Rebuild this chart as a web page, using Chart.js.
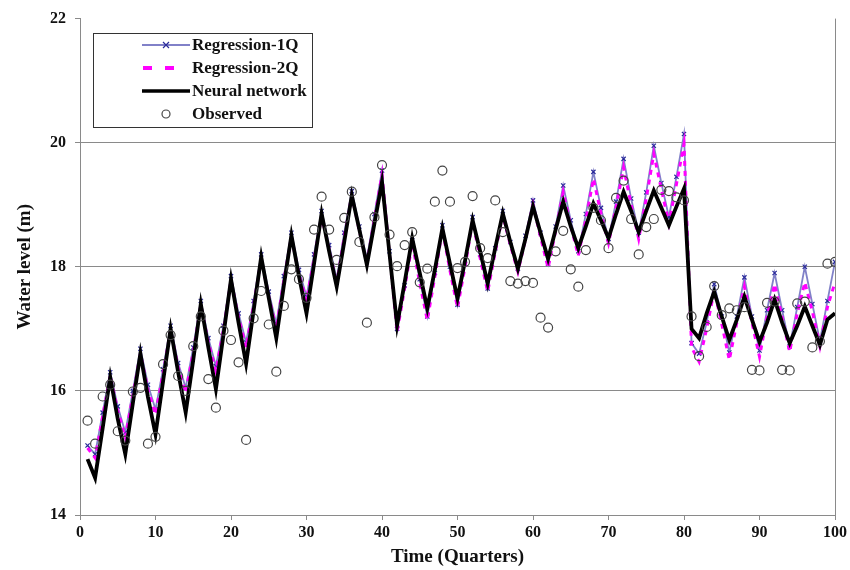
<!DOCTYPE html>
<html>
<head>
<meta charset="utf-8">
<script src="https://cdn.jsdelivr.net/npm/chart.js@4.4.1/dist/chart.umd.min.js"></script>
<style>
  html, body { margin: 0; padding: 0; background: #fff; }
  #wrap { width: 850px; height: 570px; }
</style>
</head>
<body>
<div id="wrap"><canvas id="waterChart" width="850" height="570"></canvas></div>
<script>
// quarters 1..100 (category positions on the x axis)
var quarters = Array.from({ length: 100 }, function (_, i) { return i + 1; });

var regression1Q = [
  15.12, 14.98, 15.65, 16.3, 15.75, 15.33, 16.0, 16.68, 16.1, 15.7,
  16.35, 17.05, 16.45, 16.05, 16.7, 17.45, 16.85, 16.4, 17.05, 17.85,
  17.25, 16.78, 17.45, 18.2, 17.6, 17.08, 17.85, 18.55, 17.95, 17.52,
  18.2, 18.9, 18.35, 17.8, 18.55, 19.22, 18.65, 18.13, 18.85, 19.55,
  18.25, 17.0, 17.7, 18.43, 17.8, 17.2, 17.9, 18.67, 18.0, 17.39,
  18.05, 18.8, 18.2, 17.65, 18.3, 18.9, 18.4, 17.97, 18.5, 19.07,
  18.55, 18.05, 18.65, 19.31, 18.75, 18.25, 18.85, 19.53, 18.95, 18.45,
  19.05, 19.74, 19.1, 18.55, 19.2, 19.95, 19.35, 18.8, 19.45, 20.14,
  16.77, 16.6, 17.1, 17.72, 17.2, 16.62, 17.2, 17.83, 17.2, 16.65,
  17.3, 17.9, 17.3, 16.72, 17.35, 18.0, 17.4, 16.8, 17.45, 18.08
];

var regression2Q = [
  15.08, 14.92, 15.58, 16.25, 15.68, 15.25, 15.92, 16.6, 16.02, 15.62,
  16.28, 16.98, 16.38, 15.97, 16.62, 17.38, 16.78, 16.32, 16.98, 17.78,
  17.18, 16.7, 17.38, 18.12, 17.52, 17.0, 17.78, 18.48, 17.88, 17.45,
  18.12, 18.82, 18.28, 17.72, 18.48, 19.15, 18.58, 18.05, 18.78, 19.48,
  18.18, 16.95, 17.65, 18.38, 17.74, 17.14, 17.84, 18.6, 17.94, 17.34,
  18.0, 18.73, 18.14, 17.6, 18.24, 18.83, 18.35, 17.92, 18.44, 19.0,
  18.48, 17.98, 18.58, 19.2, 18.66, 18.18, 18.76, 19.42, 18.86, 18.38,
  18.96, 19.6, 19.0, 18.45, 19.1, 19.82, 19.25, 18.7, 19.33, 19.98,
  16.7, 16.47, 17.0, 17.62, 17.08, 16.5, 17.1, 17.68, 17.1, 16.55,
  17.2, 17.72, 17.18, 16.63, 17.25, 17.75, 17.28, 16.72, 17.35, 17.75
];

var neuralNetwork = [
  14.9, 14.6, 15.4, 16.22, 15.55, 14.98, 15.8, 16.6, 15.9, 15.3,
  16.15, 17.0, 16.3, 15.65, 16.5, 17.4, 16.7, 16.03, 16.9, 17.8,
  17.1, 16.44, 17.3, 18.16, 17.5, 16.85, 17.7, 18.51, 17.85, 17.25,
  18.05, 18.86, 18.25, 17.68, 18.4, 19.15, 18.6, 18.03, 18.7, 19.37,
  18.2, 17.06, 17.75, 18.46, 17.9, 17.33, 17.95, 18.62, 18.05, 17.49,
  18.1, 18.75, 18.25, 17.73, 18.3, 18.86, 18.4, 17.97, 18.45, 18.97,
  18.55, 18.13, 18.6, 19.05, 18.65, 18.3, 18.65, 19.02, 18.75, 18.46,
  18.85, 19.21, 18.9, 18.56, 18.9, 19.23, 18.95, 18.67, 18.97, 19.26,
  17.0, 16.85, 17.25, 17.6, 17.2, 16.82, 17.15, 17.52, 17.15, 16.79,
  17.1, 17.47, 17.1, 16.77, 17.05, 17.36, 17.05, 16.74, 17.15, 17.25
];

var observed = [
  15.52, 15.15, 15.91, 16.1, 15.35, 15.2, 15.99, 16.05, 15.15, 15.26,
  16.43, 16.9, 16.24, 16.0, 16.72, 17.2, 16.19, 15.73, 16.97, 16.82,
  16.46, 15.21, 17.17, 17.61, 17.07, 16.31, 17.37, 17.96, 17.8, 17.5,
  18.6, 19.13, 18.6, 18.11, 18.79, 19.21, 18.4, 17.1, 18.8, 19.64,
  18.52, 18.01, 18.35, 18.56, 17.75, 17.97, 19.05, 19.55, 19.05, 17.98,
  18.08, 19.14, 18.3, 18.14, 19.07, 18.56, 17.77, 17.73, 17.77, 17.74,
  17.18, 17.02, 18.25, 18.58, 17.96, 17.68, 18.27, 18.95, 18.75, 18.3,
  19.11, 19.39, 18.77, 18.2, 18.64, 18.77, 19.24, 19.22, 19.12, 19.07,
  17.2, 16.56, 17.03, 17.69, 17.22, 17.33, 17.3, 17.35, 16.34, 16.33,
  17.42, 17.44, 16.34, 16.33, 17.41, 17.44, 16.7, 16.8, 18.05, 18.08
];

var xTicks = [0, 10, 20, 30, 40, 50, 60, 70, 80, 90, 100];
var yTicks = [14, 16, 18, 20, 22];

function toPoints(values) {
  return values.map(function (v, i) { return { x: quarters[i], y: v }; });
}

var SERIF = "'Liberation Serif', 'Times New Roman', serif";
var GRID = '#8a8a8a';

// legend box drawn inside the plot, top left
var boxLegend = {
  id: 'boxLegend',
  afterDraw: function (chart) {
    var c = chart.ctx;
    var left = 93, top = 33, right = 312, bottom = 127;
    c.save();
    c.fillStyle = '#fff';
    c.fillRect(left, top, right - left, bottom - top);
    c.strokeStyle = '#333';
    c.lineWidth = 1;
    c.strokeRect(left + 0.5, top + 0.5, right - left, bottom - top);

    var rows = [45, 68, 91, 114];
    // Regression-1Q
    c.strokeStyle = '#8181c8';
    c.lineWidth = 1.8;
    c.beginPath(); c.moveTo(142, rows[0]); c.lineTo(190, rows[0]); c.stroke();
    c.strokeStyle = '#2b2b9a';
    c.lineWidth = 1.2;
    c.beginPath();
    c.moveTo(163, rows[0] - 3); c.lineTo(169, rows[0] + 3);
    c.moveTo(169, rows[0] - 3); c.lineTo(163, rows[0] + 3);
    c.stroke();
    // Regression-2Q
    c.strokeStyle = '#ff00ff';
    c.lineWidth = 4;
    c.beginPath();
    c.moveTo(143, rows[1]); c.lineTo(152, rows[1]);
    c.moveTo(165, rows[1]); c.lineTo(174, rows[1]);
    c.stroke();
    // Neural network
    c.strokeStyle = '#000';
    c.lineWidth = 3.5;
    c.beginPath(); c.moveTo(142, rows[2]); c.lineTo(190, rows[2]); c.stroke();
    // Observed
    c.strokeStyle = '#444';
    c.lineWidth = 1.2;
    c.beginPath(); c.arc(166, rows[3], 4, 0, Math.PI * 2); c.stroke();

    c.fillStyle = '#111';
    c.font = 'bold 17px ' + SERIF;
    c.textBaseline = 'middle';
    var names = ['Regression-1Q', 'Regression-2Q', 'Neural network', 'Observed'];
    names.forEach(function (n, i) { c.fillText(n, 192, rows[i] + 1); });
    c.restore();
  }
};

var ctx = document.getElementById('waterChart');
var myChart = new Chart(ctx, {
  type: 'line',
  data: {
    datasets: [
      {
        label: 'Regression-1Q',
        data: toPoints(regression1Q),
        borderColor: '#8181c8',
        borderWidth: 1.8,
        pointStyle: 'crossRot',
        pointRadius: 3,
        pointBorderColor: '#2b2b9a',
        pointBorderWidth: 1.2,
        fill: false,
        tension: 0,
        order: 3
      },
      {
        label: 'Regression-2Q',
        data: toPoints(regression2Q),
        borderColor: '#ff00ff',
        borderWidth: 3,
        borderDash: [5, 5],
        pointRadius: 0,
        fill: false,
        tension: 0,
        order: 2
      },
      {
        label: 'Neural network',
        data: toPoints(neuralNetwork),
        borderColor: '#000',
        borderWidth: 3.8,
        pointRadius: 0,
        fill: false,
        tension: 0,
        order: 1
      },
      {
        label: 'Observed',
        data: toPoints(observed),
        showLine: false,
        pointStyle: 'circle',
        pointRadius: 4.5,
        pointBorderColor: '#444',
        pointBorderWidth: 1.2,
        pointBackgroundColor: 'rgba(0,0,0,0)',
        order: 0
      }
    ]
  },
  options: {
    responsive: false,
    animation: false,
    layout: { padding: { top: 18, right: 14, left: 0, bottom: 0 } },
    plugins: {
      legend: { display: false },
      tooltip: { enabled: false }
    },
    scales: {
      x: {
        type: 'linear',
        min: 0,
        max: 100,
        afterFit: function (s) { s.height = 55; },
        afterBuildTicks: function (s) { s.ticks = xTicks.map(function (v) { return { value: v }; }); },
        border: { color: GRID, width: 1 },
        grid: {
          drawOnChartArea: true,
          color: function (c) { return c.tick && c.tick.value === 100 ? GRID : 'rgba(0,0,0,0)'; },
          tickColor: GRID,
          tickLength: 5
        },
        ticks: {
          color: '#111',
          padding: 3,
          maxRotation: 0,
          font: { family: SERIF, size: 16, weight: 'bold' }
        },
        title: {
          display: true,
          text: 'Time (Quarters)',
          color: '#111',
          padding: { top: 0, bottom: 2 },
          font: { family: SERIF, size: 19, weight: 'bold' }
        }
      },
      y: {
        min: 14,
        max: 22,
        afterFit: function (s) { s.width = 80; },
        afterBuildTicks: function (s) { s.ticks = yTicks.map(function (v) { return { value: v }; }); },
        border: { color: GRID, width: 1 },
        grid: {
          color: function (c) { return c.tick && (c.tick.value === 22 || c.tick.value === 14) ? 'rgba(0,0,0,0)' : GRID; },
          tickColor: GRID,
          tickLength: 5
        },
        ticks: {
          color: '#111',
          padding: 9,
          font: { family: SERIF, size: 16, weight: 'bold' }
        },
        title: {
          display: true,
          text: 'Water level (m)',
          color: '#111',
          padding: { top: 14, bottom: 0 },
          font: { family: SERIF, size: 19, weight: 'bold' }
        }
      }
    }
  },
  plugins: [boxLegend]
});
</script>
</body>
</html>
